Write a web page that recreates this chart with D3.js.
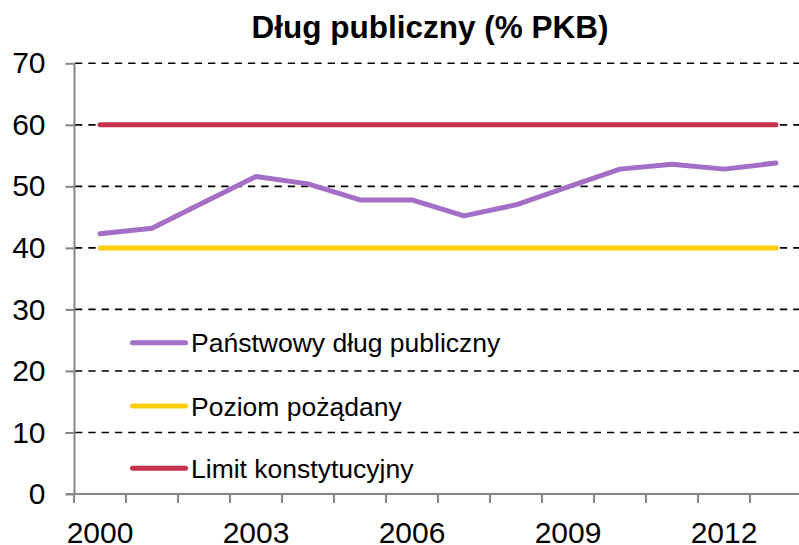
<!DOCTYPE html>
<html><head><meta charset="utf-8">
<script src="https://cdn.jsdelivr.net/npm/d3@7"></script>
<style>
html,body{margin:0;padding:0;background:#fff;}
svg{display:block;font-family:Arial,"Liberation Sans",sans-serif;}
</style></head>
<body><svg id="c" width="799" height="545"></svg>
<script>
const years = [2000,2001,2002,2003,2004,2005,2006,2007,2008,2009,2010,2011,2012,2013];
const debt = [42.3,43.2,47.4,51.6,50.4,47.8,47.8,45.2,47.0,49.9,52.8,53.6,52.8,53.8];
const desired = years.map(() => 40);
const limit = years.map(() => 60);
const yTicks = [0,10,20,30,40,50,60,70];
const xLabelYears = [2000,2003,2006,2009,2012];
const seriesNames = ["Państwowy dług publiczny","Poziom pożądany","Limit konstytucyjny"];
const seriesColors = ["#A36FC6","#FFCC00","#C8324F"];
const title = "Dług publiczny (% PKB)";

const svg = d3.select("#c");
const x = d3.scaleBand().domain(years).range([74, 802]);
const y = d3.scaleLinear().domain([0,70]).range([494, 63.3]);

// title
svg.append("text").attr("x", 430).attr("y", 38).attr("text-anchor","middle")
  .attr("font-weight","bold").attr("font-size", 31.5).attr("fill","#000").text(title);

// gridlines
svg.append("g").selectAll("line").data(yTicks.filter(d=>d>0)).join("line")
  .attr("x1", 75).attr("x2", 799).attr("y1", d=>y(d)).attr("y2", d=>y(d))
  .attr("stroke","#000").attr("stroke-width",1.6).attr("stroke-dasharray","7.3,6");

// y axis
const yAxis = svg.append("g").attr("transform","translate(74.5,0)")
  .call(d3.axisLeft(y).tickValues(yTicks).tickSize(9).tickPadding(20));
yAxis.select(".domain").attr("stroke","#868686").attr("stroke-width",2).attr("d","M0,494V63.3");
yAxis.selectAll(".tick line").attr("stroke","#868686").attr("stroke-width",2);
yAxis.selectAll("text").attr("font-size",30).attr("font-family","Arial,'Liberation Sans',sans-serif").attr("fill","#000");

// x axis
const xAxis = svg.append("g").attr("transform","translate(0,494)");
xAxis.append("line").attr("x1",66).attr("x2",799).attr("y1",0).attr("y2",0)
  .attr("stroke","#868686").attr("stroke-width",2);
xAxis.selectAll("line.t").data(years).join("line").attr("class","t")
  .attr("x1", d=>x(d)).attr("x2", d=>x(d)).attr("y1",0).attr("y2",9)
  .attr("stroke","#868686").attr("stroke-width",2);
xAxis.selectAll("text").data(xLabelYears).join("text")
  .attr("x", d=>x(d)+x.bandwidth()/2).attr("y", 48.5).attr("text-anchor","middle")
  .attr("font-size",30).attr("fill","#000").text(d=>d);

const cx = d => x(d) + x.bandwidth()/2;
const line = d3.line().x((d,i)=>cx(years[i])).y(d=>y(d));
const data = [debt, desired, limit];
// draw order: yellow, red, purple
[1,2,0].forEach(k => {
  svg.append("path").datum(data[k]).attr("d", line).attr("fill","none")
    .attr("stroke", seriesColors[k]).attr("stroke-width",5)
    .attr("stroke-linecap","round").attr("stroke-linejoin","round");
});

// legend
const legY = [342.7, 406, 468.3];
const leg = svg.append("g");
seriesNames.forEach((n,i) => {
  leg.append("line").attr("x1",132.5).attr("x2",185.5).attr("y1",legY[i]).attr("y2",legY[i])
    .attr("stroke",seriesColors[i]).attr("stroke-width",5).attr("stroke-linecap","round");
  leg.append("text").attr("x",191).attr("y",legY[i]+9.5).attr("font-size",26.5)
    .attr("fill","#000").text(n);
});
</script></body></html>
